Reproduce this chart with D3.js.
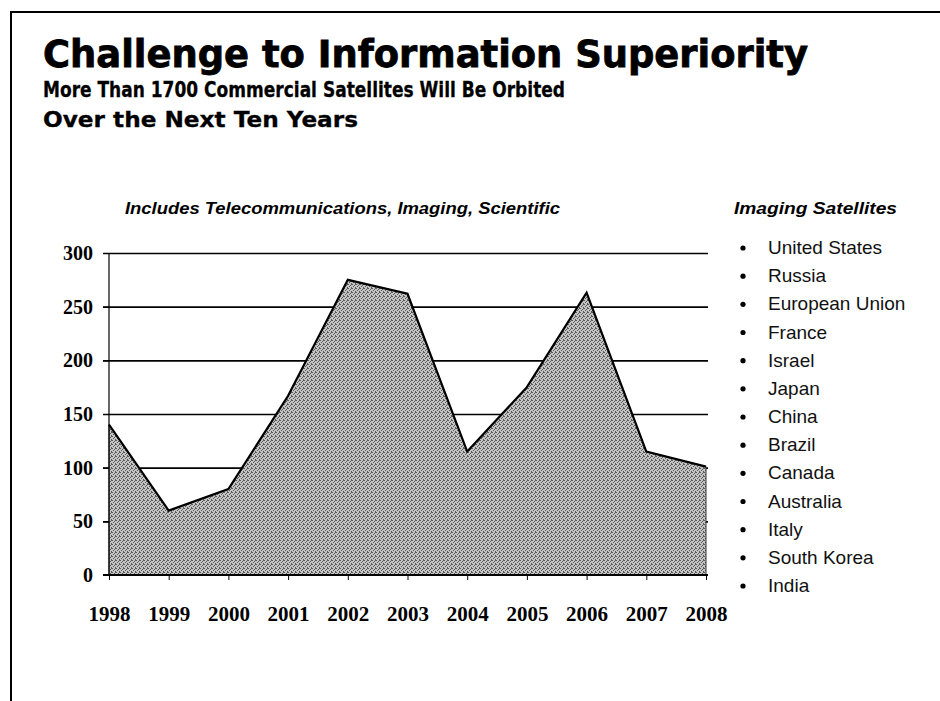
<!DOCTYPE html>
<html>
<head>
<meta charset="utf-8">
<script src="https://cdn.jsdelivr.net/npm/d3@7"></script>
<style>
  body { margin: 0; background: #fff; }
  svg { display: block; }
</style>
</head>
<body>
<div id="chart"></div>
<script>
// satellites orbited per year
const years = [1998, 1999, 2000, 2001, 2002, 2003, 2004, 2005, 2006, 2007, 2008];
const launches = [140, 60, 80, 167, 275, 262, 115, 175, 263, 115, 101];
const yTicks = [0, 50, 100, 150, 200, 250, 300];
const imagingNations = [
  "United States", "Russia", "European Union", "France", "Israel", "Japan",
  "China", "Brazil", "Canada", "Australia", "Italy", "South Korea", "India",
];

const width = 940;
const height = 701;
const plot = { left: 109, right: 706, top: 253, bottom: 575 };

const svg = d3.select("#chart")
  .append("svg")
  .attr("width", width)
  .attr("height", height);

// halftone-ish fill like the scanned slide
const defs = svg.append("defs");
const pat = defs.append("pattern")
  .attr("id", "stipple")
  .attr("width", 4)
  .attr("height", 4)
  .attr("patternUnits", "userSpaceOnUse");
pat.append("rect").attr("width", 4).attr("height", 4).attr("fill", "#c4c4c4");
[[0, 0], [2, 1], [1, 2], [3, 3], [3, 0]].forEach(([px, py]) => {
  pat.append("rect")
    .attr("x", px).attr("y", py)
    .attr("width", 1).attr("height", 1)
    .attr("fill", "#5a5a5a");
});

// slide frame
svg.append("path")
  .attr("d", `M11,${height} V12 H${width}`)
  .attr("fill", "none")
  .attr("stroke", "#000")
  .attr("stroke-width", 2);

const headFont = "'DejaVu Sans', Verdana, sans-serif";

// headings
function heading(txt, yPos, size, len) {
  svg.append("text")
    .attr("x", 43).attr("y", yPos)
    .attr("font-family", headFont)
    .attr("font-weight", "bold")
    .attr("font-size", size)
    .attr("textLength", len)
    .attr("lengthAdjust", "spacingAndGlyphs")
    .style("stroke", "#000")
    .style("stroke-width", size > 30 ? 0.8 : 0.3)
    .text(txt);
}
heading("Challenge to Information Superiority", 67, 37, 765);
heading("More Than 1700 Commercial Satellites Will Be Orbited", 97, 21, 522);
heading("Over the Next Ten Years", 127, 21, 315);

svg.append("text")
  .attr("x", 125).attr("y", 214)
  .attr("font-family", "'Liberation Sans', Arial, sans-serif")
  .attr("font-weight", "bold")
  .attr("font-style", "italic")
  .attr("font-size", 17)
  .attr("textLength", 435)
  .attr("lengthAdjust", "spacingAndGlyphs")
  .text("Includes Telecommunications, Imaging, Scientific");

// scales
const x = d3.scaleLinear()
  .domain([years[0], years[years.length - 1]])
  .range([plot.left, plot.right]);
const y = d3.scaleLinear()
  .domain([0, 300])
  .range([plot.bottom, plot.top]);

// gridlines with their left tick stubs
const grid = svg.append("g")
  .attr("transform", `translate(${plot.left},0)`)
  .call(d3.axisLeft(y).tickValues(yTicks.slice(1)).tickSize(-(plot.right - plot.left + 2)).tickFormat(""));
grid.select(".domain").remove();
grid.selectAll(".tick line")
  .attr("x1", -6)
  .attr("stroke", "#000")
  .attr("stroke-width", 1.6);

const series = years.map((yr, i) => ({ year: yr, value: launches[i] }));

const area = d3.area()
  .x((d) => x(d.year))
  .y0(y(0))
  .y1((d) => y(d.value));

svg.append("path")
  .datum(series)
  .attr("d", area)
  .attr("fill", "url(#stipple)")
  .attr("stroke", "#333")
  .attr("stroke-width", 1);

const line = d3.line()
  .x((d) => x(d.year))
  .y((d) => y(d.value));

svg.append("path")
  .datum(series)
  .attr("d", line)
  .attr("fill", "none")
  .attr("stroke", "#000")
  .attr("stroke-width", 2.2)
  .attr("stroke-linejoin", "miter");

const serif = "'Liberation Serif', 'Times New Roman', serif";

// y axis
const yAxis = svg.append("g")
  .attr("transform", `translate(${plot.left},0)`)
  .call(d3.axisLeft(y).tickValues(yTicks).tickSize(6).tickPadding(10));
yAxis.select(".domain")
  .attr("d", `M0,${plot.top}V${plot.bottom}`)
  .attr("stroke-width", 1.2);
yAxis.selectAll("text")
  .attr("font-family", serif)
  .attr("font-weight", "bold")
  .attr("font-size", 20)
  .attr("fill", "#000");

// x axis
const xAxis = svg.append("g")
  .attr("transform", `translate(0,${plot.bottom})`)
  .call(d3.axisBottom(x).tickValues(years).tickFormat(d3.format("d")).tickSize(5).tickPadding(26));
xAxis.select(".domain")
  .attr("d", `M${plot.left - 6},0H${plot.right + 2}`)
  .attr("stroke-width", 1.8);
xAxis.selectAll("text")
  .attr("font-family", serif)
  .attr("font-weight", "bold")
  .attr("font-size", 21)
  .attr("fill", "#000");

// legend list
svg.append("text")
  .attr("x", 734).attr("y", 214)
  .attr("font-family", "'Liberation Sans', Arial, sans-serif")
  .attr("font-weight", "bold")
  .attr("font-style", "italic")
  .attr("font-size", 17)
  .attr("textLength", 163)
  .attr("lengthAdjust", "spacingAndGlyphs")
  .text("Imaging Satellites");

const rowY = d3.scalePoint()
  .domain(imagingNations)
  .range([254, 592]);

const items = svg.append("g")
  .selectAll("g")
  .data(imagingNations)
  .join("g")
  .attr("transform", (d) => `translate(0,${rowY(d)})`);

items.append("circle")
  .attr("cx", 743)
  .attr("cy", -6)
  .attr("r", 2.6)
  .attr("fill", "#000");

items.append("text")
  .attr("x", 768)
  .attr("y", 0)
  .attr("font-family", "'Liberation Sans Narrow', 'Liberation Sans', Arial, sans-serif")
  .attr("font-size", 19)
  .attr("fill", "#111")
  .text((d) => d);
</script>
</body>
</html>
